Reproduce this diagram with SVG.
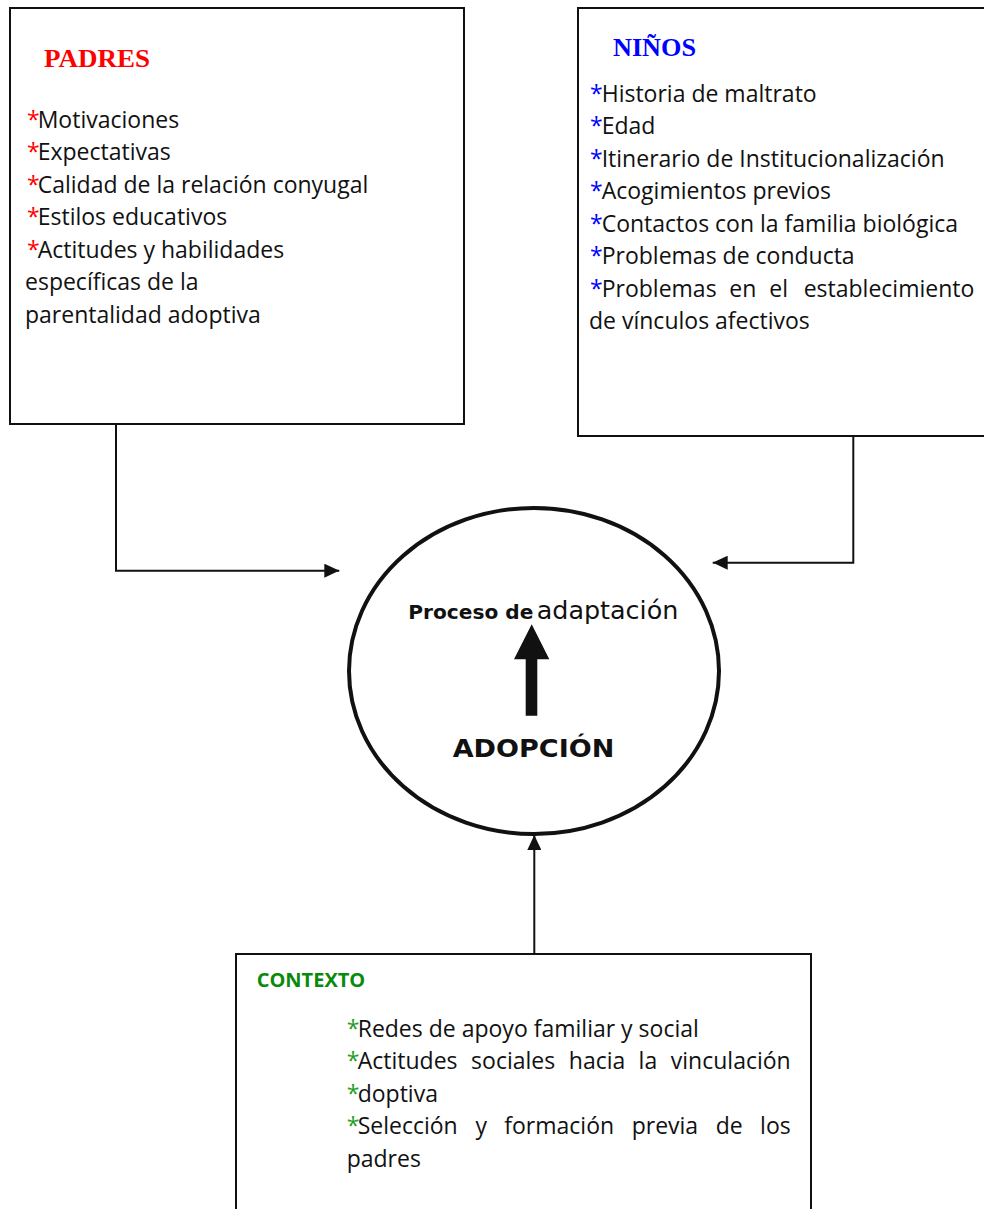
<svg xmlns="http://www.w3.org/2000/svg" width="984" height="1209" viewBox="0 0 984 1209">
<style>
.box{fill:#fff;stroke:#111;stroke-width:2}
.item{font-family:"Open Sans","Noto Sans",sans-serif;font-size:23px;fill:#111}
.title{font-family:"Liberation Serif","Times New Roman",serif;font-size:26px;font-weight:bold}
.conn{fill:none;stroke:#111;stroke-width:2}
.r{fill:#ff0000}.b{fill:#0000ff}.g{fill:#1f9f1f}
.comic{font-family:"Comic Sans MS","DejaVu Sans",sans-serif;fill:#111}
</style>
<defs>
<marker id="ah" markerWidth="15" markerHeight="14" refX="15" refY="7" orient="auto" markerUnits="userSpaceOnUse">
<path d="M0,0 L15,7 L0,14 Z" fill="#111"/>
</marker>
</defs>
<rect width="984" height="1209" fill="#fff"/>

<g id="padres">
<rect class="box" x="10" y="8" width="454" height="416"/>
<text class="title r" x="44" y="67" textLength="106" lengthAdjust="spacingAndGlyphs">PADRES</text>
<text class="item"><tspan class="r" x="27" y="127.7">*</tspan><tspan x="37.7" y="127.7">Motivaciones</tspan></text>
<text class="item"><tspan class="r" x="27" y="160.2">*</tspan><tspan x="37.7" y="160.2">Expectativas</tspan></text>
<text class="item"><tspan class="r" x="27" y="192.7">*</tspan><tspan x="37.7" y="192.7">Calidad de la relación conyugal</tspan></text>
<text class="item"><tspan class="r" x="27" y="225.2">*</tspan><tspan x="37.7" y="225.2">Estilos educativos</tspan></text>
<text class="item"><tspan class="r" x="27" y="257.7">*</tspan><tspan x="37.7" y="257.7">Actitudes y habilidades</tspan></text>
<text class="item" x="25" y="290.2">específicas de la</text>
<text class="item" x="25" y="322.7">parentalidad adoptiva</text>
</g>

<g id="ninos">
<rect class="box" x="578" y="8" width="430" height="428"/>
<text class="title b" x="613" y="56" textLength="83" lengthAdjust="spacingAndGlyphs">NIÑOS</text>
<text class="item"><tspan class="b" x="590" y="101.7">*</tspan><tspan x="601.7" y="101.7">Historia de maltrato</tspan></text>
<text class="item"><tspan class="b" x="590" y="134.2">*</tspan><tspan x="601.7" y="134.2">Edad</tspan></text>
<text class="item"><tspan class="b" x="590" y="166.7">*</tspan><tspan x="601.7" y="166.7">Itinerario de Institucionalización</tspan></text>
<text class="item"><tspan class="b" x="590" y="199.2">*</tspan><tspan x="601.7" y="199.2">Acogimientos previos</tspan></text>
<text class="item"><tspan class="b" x="590" y="231.7">*</tspan><tspan x="601.7" y="231.7">Contactos con la familia biológica</tspan></text>
<text class="item"><tspan class="b" x="590" y="264.2">*</tspan><tspan x="601.7" y="264.2">Problemas de conducta</tspan></text>
<text class="item"><tspan class="b" x="590" y="296.7">*</tspan><tspan x="601.7" y="296.7">Problemas</tspan><tspan x="729.3" y="296.7">en</tspan><tspan x="769.3" y="296.7">el</tspan><tspan x="974.3" y="296.7" text-anchor="end">establecimiento</tspan></text>
<text class="item" x="589" y="329.2">de vínculos afectivos</text>
</g>

<g id="adopcion">
<ellipse cx="534" cy="671" rx="185" ry="163" fill="#fff" stroke="#111" stroke-width="4"/>
<text class="comic" x="408.3" y="619.3" font-size="20" font-weight="bold" textLength="125" lengthAdjust="spacingAndGlyphs">Proceso de</text>
<text class="comic" x="536.7" y="619.3" font-size="24" textLength="141.6" lengthAdjust="spacingAndGlyphs">adaptación</text>
<path d="M531.7,624.3 L549.3,659.3 L537.3,659.3 L537.3,715.7 L525.7,715.7 L525.7,659.3 L514,659.3 Z" fill="#111"/>
<text class="comic" x="452.7" y="756.7" font-size="25" font-weight="bold" textLength="161.6" lengthAdjust="spacingAndGlyphs">ADOPCIÓN</text>
</g>

<g id="contexto">
<rect class="box" x="236" y="954" width="575" height="280"/>
<text x="256.7" y="987.3" font-family="'Open Sans','Noto Sans',sans-serif" font-size="20" font-weight="bold" fill="#0a8a0a">CONTEXTO</text>
<text class="item"><tspan class="g" x="346.7" y="1036.7">*</tspan><tspan x="357.7" y="1036.7">Redes de apoyo familiar y social</tspan></text>
<text class="item"><tspan class="g" x="346.7" y="1069.2">*</tspan><tspan x="357.7" y="1069.2">Actitudes</tspan><tspan x="471.1" y="1069.2">sociales</tspan><tspan x="568.8" y="1069.2">hacia</tspan><tspan x="638.6" y="1069.2">la</tspan><tspan x="790.7" y="1069.2" text-anchor="end">vinculación</tspan></text>
<text class="item"><tspan class="g" x="346.7" y="1101.7">*</tspan><tspan x="357.7" y="1101.7">doptiva</tspan></text>
<text class="item"><tspan class="g" x="346.7" y="1134.2">*</tspan><tspan x="357.7" y="1134.2">Selección</tspan><tspan x="475.4" y="1134.2">y</tspan><tspan x="504.3" y="1134.2">formación</tspan><tspan x="631.7" y="1134.2">previa</tspan><tspan x="715.7" y="1134.2">de</tspan><tspan x="790.7" y="1134.2" text-anchor="end">los</tspan></text>
<text class="item" x="346.7" y="1166.7">padres</text>
</g>

<g id="connectors">
<path class="conn" d="M116,424 L116,570.7 L339.3,570.7" marker-end="url(#ah)"/>
<path class="conn" d="M853.3,436 L853.3,562.7 L712.7,562.7" marker-end="url(#ah)"/>
<path class="conn" d="M534.3,954 L534.3,835" marker-end="url(#ah)"/>
</g>
</svg>
